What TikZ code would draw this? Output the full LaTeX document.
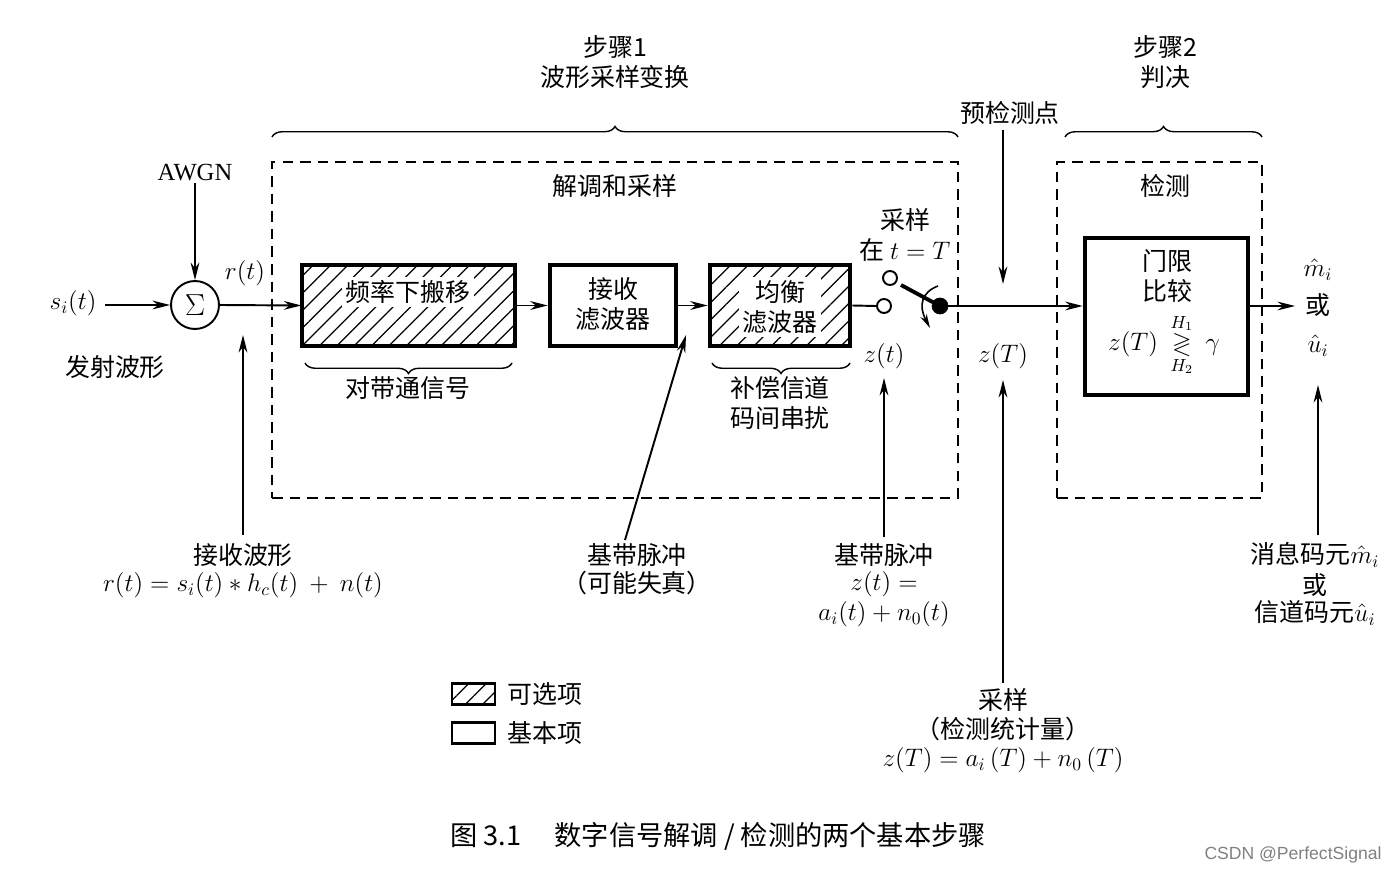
\documentclass[tikz,border=0pt]{standalone}
\usepackage{amsmath,amssymb}
\usepackage{fontspec}
\setmainfont{Liberation Serif}
\newfontfamily\cjk{Noto Sans CJK SC}
\newfontfamily\wmfont{Liberation Sans}
\usetikzlibrary{arrows.meta,patterns.meta,decorations.pathreplacing,calc}
\tikzset{
  txt/.style={font=\fontsize{14.2}{17}\selectfont\cjk, inner sep=1pt, align=center},
  mtxt/.style={font=\fontsize{14.2}{17}\selectfont\cjk, inner sep=1pt, align=center},
  arr/.style={line width=1.1pt,-{Stealth[length=10pt,width=5pt]}},
  thin/.style={line width=1.1pt},
  blockbox/.style={draw,line width=2.6pt,minimum width=#1,minimum height=1.62cm},
  hatch/.style={pattern={Lines[angle=45,distance=7pt,line width=0.7pt]}},
  dashbox/.style={draw,line width=0.8pt,dash pattern=on 6pt off 4pt},
  bracestyle/.style={line width=0.8pt,decorate,decoration={brace,amplitude=6pt}},
  contact/.style={draw,circle,line width=1.1pt,minimum size=0.28cm,inner sep=0pt,fill=white},
}
\begin{document}
\begin{tikzpicture}[x=0.02cm,y=-0.02cm]
\useasboundingbox (0,0) rectangle (1398,874);

% titles
\node[txt] (st1) at (615,47) {步骤1};
\node[txt] (st1b) at (615,77) {波形采样变换};
\node[txt] (st2) at (1165,47) {步骤2};
\node[txt] (st2b) at (1165,77) {判决};
\node[txt] (pre) at (1010,113) {预检测点};

% braces
\draw[bracestyle] (272,137) -- (958,137);
\draw[bracestyle] (1065,137) -- (1262,137);

% dashed boxes
\node[dashbox,minimum width=13.72cm,minimum height=6.72cm] (dbox1) at (615,330) {};
\node[dashbox,minimum width=4.1cm,minimum height=6.72cm] (dbox2) at (1159.5,330) {};
\node[txt] (demod) at (615,186) {解调和采样};
\node[txt] (detl) at (1165,186) {检测};

% input
\node[txt,font=\fontsize{14}{16}\selectfont] (awgn) at (195,173) {AWGN};
\node[draw,circle,line width=1.1pt,minimum size=0.96cm,inner sep=0pt,font=\fontsize{19}{21}\selectfont] (sum) at (195,305) {$\Sigma$};
\node[mtxt] (si) at (73,303) {$s_i(t)$};
\node[txt] (fs) at (115,367) {发射波形};
\node[mtxt] (rt) at (245,273) {$r(t)$};
\draw[arr] (awgn.south) -- (sum.north);
\coordinate (sistart) at (105,305);
\draw[arr] (sistart) -- (sum.west);

% blocks
\node[blockbox=4.26cm,hatch] (b1) at (408.5,305.5) {};
\node[txt,fill=white,inner sep=2pt] (b1t) at (408,292) {频率下搬移};
\node[blockbox=2.52cm] (b2) at (613,305.5) {};
\node[txt] (b2t) at (613,304) {接收\\滤波器};
\node[blockbox=2.8cm,hatch] (b3) at (780,305.5) {};
\node[txt,fill=white,inner sep=2pt] (b3t) at (780,307) {均衡\\滤波器};

\draw[arr] (sum.east) -- (b1.west);
\draw[arr] (b1.east) -- (b2.west);
\draw[arr] (b2.east) -- (b3.west);

% switch
\node[contact] (c2) at (884,306) {};
\node[contact] (c1) at (890,278) {};
\node[draw,circle,fill=black,minimum size=0.32cm,inner sep=0pt] (sw) at (940,306) {};
\draw[thin] (b3.east) -- (c2.west);
\coordinate (lev) at (901,285);
\draw[line width=2.2pt] (sw.center) -- (lev);
\draw[line width=0.9pt,-{Stealth[length=8pt,width=4pt]}] (938,286) .. controls (922,292) and (918,305) .. (930,328);
\node[txt] (samp1) at (905,220) {采样};
\node[txt] (samp2) at (905,250) {在 $t=T$};
\node[mtxt] (zt) at (884,356) {$z(t)$};
\node[mtxt] (zT) at (1003,356) {$z(T)$};

% detector
\node[blockbox=3.26cm,minimum height=3.14cm] (det) at (1166.5,316.5) {};
\node[txt] (dett) at (1167,276) {门限\\比较};
\node[mtxt] (detf) at (1164,345) {$z(T)\ \underset{H_2}{\overset{H_1}{\gtrless}}\ \gamma$};
\draw[arr] (sw.east) -- (det.west |- sw);
\coordinate (outend) at (1295,306);
\draw[arr] (det.east |- sw) -- (outend);
\node[mtxt] (mh) at (1318,270) {$\hat m_i$};
\node[txt] (or1) at (1318,305) {或};
\node[mtxt] (uh) at (1318,346) {$\hat u_i$};

% pre-detection arrow
\coordinate (preS) at (1003,130);
\coordinate (preE) at (1003,284);
\draw[arr] (preS) -- (preE);

% under braces
\draw[bracestyle] (512,363) -- (305,363);
\node[txt] (bl1) at (408,388) {对带通信号};
\draw[bracestyle] (850,363) -- (712,363);
\node[txt] (bl3) at (780,403) {补偿信道\\码间串扰};

% bottom annotations
\node[txt] (rw1) at (243,555) {接收波形};
\node[mtxt] (rw2) at (243,585) {$r(t)=s_i(t)*h_c(t)\ +\ n(t)$};
\coordinate (rwS) at (243,535);
\coordinate (rwE) at (243,335);
\draw[arr] (rwS) -- (rwE);

\node[txt] (bb1) at (637,555) {基带脉冲};
\node[txt] (bb2) at (637,583) {（可能失真）};
\coordinate (bbS) at (625,540);
\coordinate (bbE) at (686,335);
\draw[arr] (bbS) -- (bbE);

\node[txt] (zb1) at (884,555) {基带脉冲};
\node[mtxt] (zb2) at (884,584) {$z(t)=$};
\node[mtxt] (zb3) at (884,614) {$a_i(t)+n_0(t)$};
\coordinate (zbS) at (884,537);
\coordinate (zbE) at (884,378);
\draw[arr] (zbS) -- (zbE);

\node[txt] (sa1) at (1003,700) {采样};
\node[txt] (sa2) at (1003,729) {（检测统计量）};
\node[mtxt] (sa3) at (1003,760) {$z(T)=a_i\,(T)+n_0\,(T)$};
\coordinate (saS) at (1003,683);
\coordinate (saE) at (1003,380);
\draw[arr] (saS) -- (saE);

\node[txt] (ms1) at (1315,555) {消息码元$\hat m_i$};
\node[txt] (ms2) at (1315,585) {或};
\node[txt] (ms3) at (1315,613) {信道码元$\hat u_i$};
\coordinate (msS) at (1318,535);
\coordinate (msE) at (1318,385);
\draw[arr] (msS) -- (msE);

% legend
\node[draw,line width=1.6pt,hatch,minimum width=0.86cm,minimum height=0.42cm] (lg1) at (473.5,694) {};
\node[txt,anchor=west] (lg1t) at (505,694) {可选项};
\node[draw,line width=1.6pt,minimum width=0.86cm,minimum height=0.42cm] (lg2) at (473.5,733) {};
\node[txt,anchor=west] (lg2t) at (505,733) {基本项};

% caption
\node[txt,font=\fontsize{15.5}{18}\selectfont\cjk] (cap) at (718,836) {图 3.1\quad\ 数字信号解调 / 检测的两个基本步骤};
\node[font=\fontsize{10}{12}\selectfont\wmfont,text=gray] (wm) at (1293,855) {CSDN @PerfectSignal};
\end{tikzpicture}
\end{document}
